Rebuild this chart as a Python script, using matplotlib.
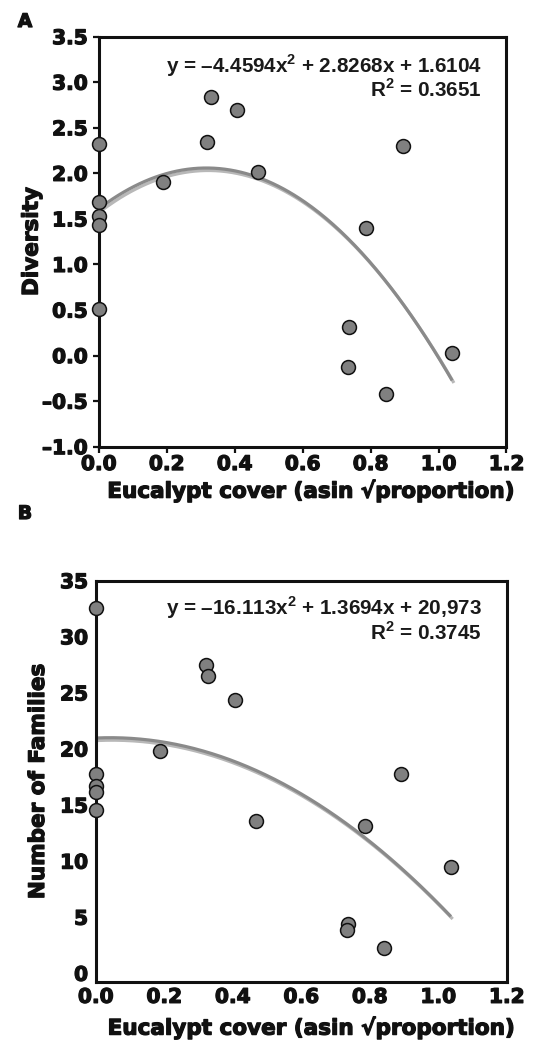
import numpy as np
import matplotlib
matplotlib.use("Agg")
import matplotlib.pyplot as plt
import matplotlib.patheffects as pe

# --- data ---
cover_a = [0.0, 0.0, 0.0, 0.0, 0.0, 0.189, 0.33, 0.408, 0.32, 0.47,
           0.894, 0.787, 0.738, 0.735, 0.845, 1.04]
diversity = [2.32, 1.68, 1.53, 1.43, 0.51, 1.90, 2.84, 2.69, 2.34, 2.02,
             2.30, 1.40, 0.31, -0.13, -0.42, 0.03]

cover_b = [0.0, 0.0, 0.0, 0.0, 0.0, 0.189, 0.321, 0.329, 0.408, 0.891,
           0.468, 0.786, 1.037, 0.738, 0.733, 0.843]
families = [32.6, 17.8, 16.7, 16.2, 14.6, 19.8, 27.5, 26.5, 24.4, 17.8,
            13.6, 13.1, 9.5, 4.4, 3.9, 2.3]

coef_a = [-4.4594, 2.8268, 1.6104]
coef_b = [-16.113, 1.3694, 20.973]
eq_a = ["y = \u20134.4594x$^2$ + 2.8268x + 1.6104", "R$^2$ = 0.3651"]
eq_b = ["y = \u201316.113x$^2$ + 1.3694x + 20,973", "R$^2$ = 0.3745"]

xticks = [0.0, 0.2, 0.4, 0.6, 0.8, 1.0, 1.2]
yticks_a = [-1.0, -0.5, 0.0, 0.5, 1.0, 1.5, 2.0, 2.5, 3.0, 3.5]
yticks_b = [0, 5, 10, 15, 20, 25, 30, 35]

# heavy, black-weight look: bold DejaVu plus a thin stroke
thick = [pe.withStroke(linewidth=0.9, foreground="#111111")]
heavy = dict(family="DejaVu Sans", weight="bold", color="#111111", path_effects=thick)
plt.rcParams["mathtext.fontset"] = "custom"
plt.rcParams["mathtext.rm"] = "Liberation Sans:bold"

fig = plt.figure(figsize=(5.37, 10.41), dpi=100)
ax_a = fig.add_axes([0.1838, 0.5709, 0.7594, 0.3939])
ax_b = fig.add_axes([0.1782, 0.0564, 0.7654, 0.3858])


def draw(ax, x, y, coef, eq, ylim, yticks, yfmt, ylabel, ticks_on, eq_y):
    xs = np.linspace(0, max(x), 200)
    ys = np.polyval(coef, xs)
    ax.plot(xs, ys, color="#8a8a8a", lw=2.3, zorder=2, solid_capstyle="butt",
            path_effects=[pe.SimpleLineShadow(offset=(1.3, -1.8), shadow_color="k", alpha=0.28),
                          pe.Normal()])
    ax.scatter(x, y, s=100, facecolor="#808080", edgecolor="#111111", linewidth=1.1,
               zorder=3, clip_on=False)
    ax.set_xlim(0, 1.2)
    ax.set_ylim(*ylim)
    ax.set_xticks(xticks)
    ax.set_xticklabels([f"{t:.1f}" for t in xticks], fontsize=14.5, **heavy)
    ax.set_yticks(yticks)
    ax.set_yticklabels([yfmt(t) for t in yticks], fontsize=14.5, **heavy)
    for s in ax.spines.values():
        s.set_linewidth(2.2)
        s.set_color("#111111")
    if ticks_on:
        ax.tick_params(length=4, width=1.6, direction="out", color="#111111")
        ax.tick_params(axis="x", pad=2)
        ax.tick_params(axis="y", pad=4)
    else:
        ax.tick_params(length=0)
        ax.tick_params(axis="x", pad=4)
        ax.tick_params(axis="y", pad=5.5)
    ax.set_xlabel("Eucalypt cover (asin \u221aproportion)", fontsize=15.5, **heavy)
    ax.set_ylabel(ylabel, fontsize=15.5, **heavy)
    for line, yy in zip(eq, eq_y):
        ax.text(0.939, yy, line, transform=ax.transAxes, ha="right", va="baseline",
                fontsize=14.9, family="Liberation Sans", weight="bold", color="#1a1a1a")


draw(ax_a, cover_a, diversity, coef_a, eq_a, (-1.0, 3.5), yticks_a,
     lambda t: f"{t:.1f}".replace("-", "\u2013"), "Diversity", True, (0.9115, 0.853))
ax_a.xaxis.set_label_coords(0.519, -0.079)
ax_a.yaxis.set_label_coords(-0.14, 0.5)

draw(ax_b, cover_b, families, coef_b, eq_b, (-0.8, 35), yticks_b,
     lambda t: f"{t:d}", "Number of Families", False, (0.9146, 0.852))
ax_b.xaxis.set_label_coords(0.523, -0.084)
ax_b.yaxis.set_label_coords(-0.116, 0.5)

fig.text(25 / 537, 1 - 21.5 / 1041, "A", fontsize=13.5, va="center", ha="center", **heavy)
fig.text(25 / 537, 1 - 513.5 / 1041, "B", fontsize=13.5, va="center", ha="center", **heavy)

fig.savefig("out.png", dpi=100)
